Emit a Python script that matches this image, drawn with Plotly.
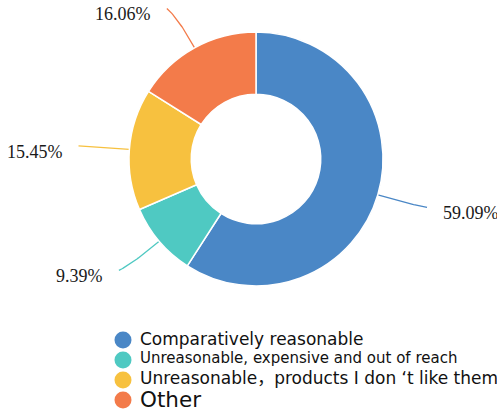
import numpy as np
import plotly.graph_objects as go

# Survey answers and their shares (%)
categories = [
    "Comparatively reasonable",
    "Unreasonable, expensive and out of reach",
    "Unreasonable，products I don ‘t like them",
    "Other",
]
shares = [59.09, 9.39, 15.45, 16.06]
colors = ["#4A87C6", "#4FC9C2", "#F7C13F", "#F37B4A"]

W, H = 497, 412
CX, CY, R = 256, 159, 127      # donut centre and outer radius (px)
HOLE = 0.51
LEAD1, LEAD2 = 45, 6           # radial and horizontal leader segments (px)

# legend block layout (px): row centres, text sizes
LEG_X, LEG_TEXT_X = 123, 138
leg_rows = [340, 360, 380, 400]
leg_text_dy = [-1.5, -2.5, -2, -0.5]
leg_font = [17, 15, 17, 21.5]

fig = go.Figure()

fig.add_trace(go.Pie(
    values=shares,
    labels=categories,
    sort=False,
    direction="clockwise",
    rotation=0,
    hole=HOLE,
    marker=dict(colors=colors, line=dict(color="white", width=1.5)),
    textinfo="none",
    hoverinfo="label+percent",
    showlegend=False,
    domain=dict(x=[(CX - R) / W, (CX + R) / W],
                y=[1 - (CY + R) / H, 1 - (CY - R) / H]),
))

# leader lines and outside percentage labels, placed from each slice's mid-angle
vals = np.array(shares, dtype=float)
frac = vals / vals.sum()
mid = (np.cumsum(frac) - frac / 2) * 2 * np.pi
for ang, v, c in zip(mid, shares, colors):
    dx, dy = np.sin(ang), -np.cos(ang)
    sx, sy = CX + R * dx, CY + R * dy
    side = 1 if dx >= 0 else -1
    px, py = CX + (R + LEAD1) * dx, CY + (R + LEAD1) * dy
    ex, ey = px + side * LEAD2, py
    # quadratic curve from the slice edge to the label anchor
    t = np.linspace(0, 1, 30)
    kx, ky = CX + (R + LEAD1 * 0.75) * dx, CY + (R + LEAD1 * 0.75) * dy
    bx = (1 - t) ** 2 * sx + 2 * (1 - t) * t * kx + t ** 2 * ex
    by = (1 - t) ** 2 * sy + 2 * (1 - t) * t * ky + t ** 2 * ey
    fig.add_trace(go.Scatter(x=bx, y=by, mode="lines",
                             line=dict(color=c, width=1.3),
                             hoverinfo="skip", showlegend=False))
    fig.add_annotation(x=ex + side * 14, y=ey + 6, xref="x", yref="y",
                       text=f"{v:.2f}%", showarrow=False,
                       xanchor="left" if side > 0 else "right", yanchor="middle",
                       font=dict(family="Liberation Serif", size=18, color="#1a1a1a"))

# legend: round swatches with their category names
fig.add_trace(go.Scatter(
    x=[LEG_X] * len(categories), y=leg_rows, mode="markers",
    marker=dict(color=colors, size=17, symbol="circle", line=dict(width=0)),
    hoverinfo="skip", showlegend=False,
))
for name, yy, dyy, fs in zip(categories, leg_rows, leg_text_dy, leg_font):
    fig.add_annotation(x=LEG_TEXT_X, y=yy + dyy, xref="x", yref="y",
                       text=name, showarrow=False,
                       xanchor="left", yanchor="middle",
                       font=dict(family="DejaVu Sans, Noto Sans CJK SC", size=fs, color="#111"))

fig.update_layout(
    width=W, height=H,
    margin=dict(l=0, r=0, t=0, b=0, autoexpand=False),
    paper_bgcolor="white", plot_bgcolor="white",
    showlegend=False,
    xaxis=dict(range=[0, W], visible=False, domain=[0, 1], fixedrange=True),
    yaxis=dict(range=[H, 0], visible=False, domain=[0, 1], fixedrange=True),
)

fig.write_html("out.html")
